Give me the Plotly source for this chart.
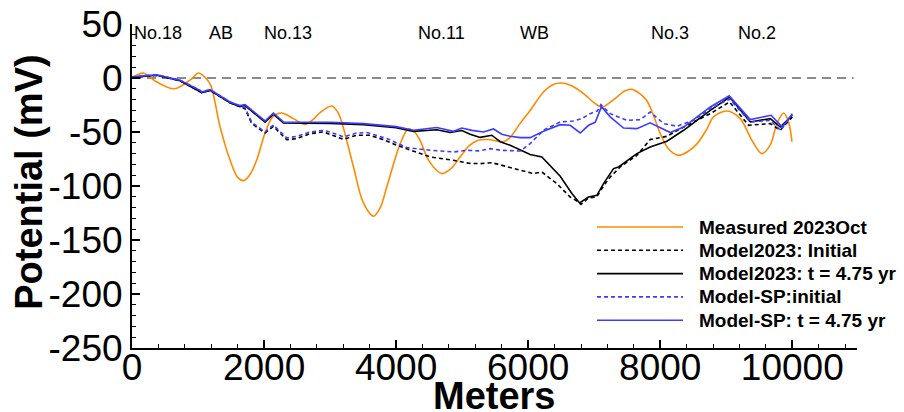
import plotly.graph_objects as go

# ---------------- data ----------------
meas_m = [0, 170, 370, 640, 900, 1005, 1130, 1200, 1333, 1485, 1600, 1687, 1780, 1889, 2015, 2130,
          2268, 2444, 2621, 2750, 2848, 3025, 3120, 3177, 3353, 3500, 3656, 3760, 3858, 4061, 4187,
          4280, 4364, 4500, 4692, 4830, 4970, 5100, 5222, 5400, 5626, 5727, 5879, 6030, 6232, 6380,
          6510, 6650, 6838, 7000, 7116, 7230, 7343, 7460, 7571, 7680, 7798, 7900, 8000, 8130, 8278,
          8420, 8556, 8700, 8808, 9010, 9212, 9389, 9540, 9667, 9768, 9869, 9944, 9995]
meas_mv = [0, 4.5, -3.5, -10, -1, 4.6, -1, -8, -45, -76, -92, -95, -90, -76, -51, -36,
           -32.4, -37.6, -43, -38, -32, -26, -32, -41, -82, -115, -128, -120, -101, -61, -47,
           -50, -58, -77, -88.5, -84, -73, -63, -58, -57, -59, -55, -42, -30, -13, -6,
           -4.6, -7, -14.4, -23, -27, -23, -17.6, -12, -10.5, -14, -21, -35, -51.5, -66, -71.6,
           -68, -61, -48, -36, -30.5, -37.6, -57.7, -70, -62, -42, -32.4, -40.7, -59]

m23_init_m = [0, 374, 727, 1030, 1056, 1182, 1485, 1712, 1813, 2015, 2141, 2343, 2495, 2697, 2899,
              3000, 3202, 3400, 3606, 3800, 4010, 4515, 4869, 5100, 5273, 5449, 5677, 5879, 6081,
              6207, 6434, 6636, 6753, 6800, 6914, 7040, 7141, 7242, 7400, 7646, 7848, 8101, 8354,
              8758, 9050, 9338, 9667, 9818, 10000]
m23_init_mv = [0.5, 2.5, -2.5, -12, -13.5, -11.5, -23, -28.4, -42.2, -50.9, -44.8, -57.1, -56.1, -51.5, -50,
               -52.2, -56.8, -53, -53, -57, -62.3, -73.1, -76.2, -79, -79.3, -78.4, -81.8, -85.5, -88.5,
               -87, -97.8, -110.2, -114.4, -117, -111, -110, -100, -91.7, -82, -71.6, -57, -54, -45.4,
               -33, -22.2, -43.8, -42.2, -48.4, -36]

m23_t_m = [0, 374, 727, 1030, 1056, 1182, 1485, 1636, 1712, 2015, 2141, 2293, 2600, 3000, 3505, 4000,
           4263, 4364, 4616, 4818, 4995, 5121, 5273, 5449, 5576, 5727, 5879, 6030, 6207, 6485, 6662,
           6778, 6914, 7040, 7141, 7293, 7369, 7646, 7848, 8101, 8354, 8758, 9050, 9364, 9667, 9818,
           10000]
m23_t_mv = [0.5, 2.5, -2.5, -12, -13.5, -11.5, -23, -26.5, -25.5, -40.8, -33.4, -41.7, -42, -42, -43.2, -46,
            -49.4, -49, -47.9, -50.5, -48.6, -52, -55, -53, -59, -62.3, -66.3, -70.9, -73.1, -91, -107,
            -115.7, -110.2, -108.6, -97.8, -83.9, -82.4, -70, -63.9, -58.6, -48.4, -29.9, -17.6, -40.7, -37.6, -45.4,
            -34.5]

sp_init_m = [0, 374, 727, 1030, 1056, 1182, 1485, 1712, 1813, 2015, 2141, 2343, 2495, 2697, 2899, 3000,
             3202, 3400, 3556, 3700, 3859, 4162, 4515, 4869, 5071, 5250, 5424, 5600, 5879, 6030, 6232,
             6485, 6687, 6813, 6939, 7050, 7101, 7242, 7495, 7697, 7848, 8051, 8253, 8505, 8758, 9050,
             9364, 9667, 9818, 10000]
sp_init_mv = [1, 3, -2, -11.4, -13, -10.8, -22.2, -27.5, -41, -50, -43.5, -55.5, -54, -50, -48.5, -50,
              -54.5, -51, -50.5, -53, -56.1, -64.4, -66.9, -68.5, -66.9, -67.5, -65.4, -67, -67.6, -60.7, -48.4,
              -40.7, -39.8, -37.6, -33, -30.5, -24.7, -33, -39.2, -38.6, -31.5, -42.2, -44.7, -39.2, -28.4, -19.5,
              -40.7, -39.2, -48.4, -34]

sp_t_m = [0, 374, 727, 1030, 1056, 1182, 1485, 1636, 1712, 2015, 2141, 2293, 2600, 3000, 3505, 4000,
          4263, 4450, 4616, 4869, 4995, 5150, 5323, 5475, 5601, 5727, 5879, 6030, 6232, 6485, 6636,
          6788, 6914, 7015, 7110, 7242, 7444, 7646, 7848, 8152, 8354, 8758, 9045, 9364, 9680, 9850,
          10000]
sp_t_mv = [1, 3, -2, -11.4, -13, -10.8, -22.2, -25.6, -24.6, -39.8, -32.4, -40.7, -41, -41, -42.2, -45,
           -48.4, -47, -45.9, -49.4, -46.3, -48.5, -50, -47.2, -52.1, -54, -55.2, -55.2, -49.4, -43.2, -43.8,
           -50.9, -43.8, -41, -26.5, -36, -46.3, -46.9, -41.5, -50.5, -45.4, -26.8, -16.5, -38.5, -34.5, -45.5,
           -33]

station_m = [400, 1350, 2356, 4680, 6098, 8152, 9470]
station_names = ["No.18", "AB", "No.13", "No.11", "WB", "No.3", "No.2"]
station_level = 42

x_ticks = [0, 2000, 4000, 6000, 8000, 10000]
y_ticks = [-250, -200, -150, -100, -50, 0, 50]

# ---------------- figure ----------------
FONT = "Liberation Sans, Arial, sans-serif"
BLUE = "#3c3cff"
ORANGE = "#ff8a00"

fig = go.Figure()
fig.add_trace(go.Scatter(x=meas_m, y=meas_mv, mode="lines", name="Measured 2023Oct",
                         line=dict(color=ORANGE, width=1.6, shape="spline", smoothing=0.9)))
fig.add_trace(go.Scatter(x=m23_init_m, y=m23_init_mv, mode="lines", name="Model2023: Initial",
                         line=dict(color="black", width=1.6, dash="4px,3px")))
fig.add_trace(go.Scatter(x=m23_t_m, y=m23_t_mv, mode="lines", name="Model2023: t = 4.75 yr",
                         line=dict(color="black", width=1.6)))
fig.add_trace(go.Scatter(x=sp_init_m, y=sp_init_mv, mode="lines", name="Model-SP:initial",
                         line=dict(color=BLUE, width=1.6, dash="4px,3px")))
fig.add_trace(go.Scatter(x=sp_t_m, y=sp_t_mv, mode="lines", name="Model-SP: t = 4.75 yr",
                         line=dict(color=BLUE, width=1.6)))

fig.add_shape(type="line", xref="x", yref="y", x0=0, x1=10930, y0=0, y1=0,
              line=dict(color="#666666", width=1.5, dash="9px,6px"), layer="below")

for xm, name in zip(station_m, station_names):
    fig.add_annotation(x=xm, y=station_level, xref="x", yref="y", text=name, showarrow=False,
                       font=dict(family=FONT, size=18, color="black"))

# legend drawn from the traces themselves (keyed to their line styles)
leg_top_px, leg_step_px = 227, 23.3
plot_top, plot_h = 24, 324
for i, tr in enumerate(fig.data):
    ypx = leg_top_px + i * leg_step_px
    yp = (plot_top + plot_h - ypx) / plot_h
    fig.add_shape(type="line", xref="paper", yref="paper", x0=0.6414, x1=0.760, y0=yp, y1=yp,
                  line=dict(color=tr.line.color, width=1.6, dash=tr.line.dash))
    fig.add_annotation(x=0.7793, y=yp, xref="paper", yref="paper", text="<b>%s</b>" % tr.name,
                       showarrow=False, xanchor="left", yanchor="middle",
                       font=dict(family=FONT, size=19, color="black"))

# axis titles
fig.add_annotation(x=-0.142, y=0.51, xref="paper", yref="paper", text="<b>Potential (mV)</b>",
                   textangle=-90, showarrow=False, xanchor="center", yanchor="middle",
                   font=dict(family=FONT, size=38, color="black"))
fig.add_annotation(x=0.5, y=-0.148, xref="paper", yref="paper", text="<b>Meters</b>",
                   showarrow=False, xanchor="center", yanchor="middle", height=30, valign="middle",
                   font=dict(family=FONT, size=38, color="black"))

axis_common = dict(showline=True, linecolor="black", linewidth=2, ticks="inside", ticklen=8,
                   tickwidth=1.5, tickcolor="black", showgrid=False, zeroline=False, automargin=False,
                   tickfont=dict(family=FONT, size=37, color="black"), mirror=False)

fig.update_xaxes(range=[0, 10980], tickmode="array", tickvals=x_ticks,
                 ticktext=[str(v) for v in x_ticks], ticklabelstandoff=-14,
                 minor=dict(dtick=400, tick0=0, ticks="inside", ticklen=4, tickcolor="black", tickwidth=1.2),
                 **axis_common)
fig.update_yaxes(range=[-250, 50], tickmode="array", tickvals=y_ticks,
                 ticktext=[str(v) for v in y_ticks],
                 minor=dict(dtick=10, tick0=0, ticks="inside", ticklen=4, tickcolor="black", tickwidth=1.2),
                 **axis_common)

fig.update_layout(
    width=904, height=412,
    margin=dict(l=132, r=47, t=24, b=64, pad=0),
    plot_bgcolor="white", paper_bgcolor="white",
    font=dict(family=FONT, color="black"),
    showlegend=False,
)

fig.write_html("out.html", config={"displayModeBar": False},
               post_script="document.body.style.margin='0';document.body.style.overflow='hidden';")
